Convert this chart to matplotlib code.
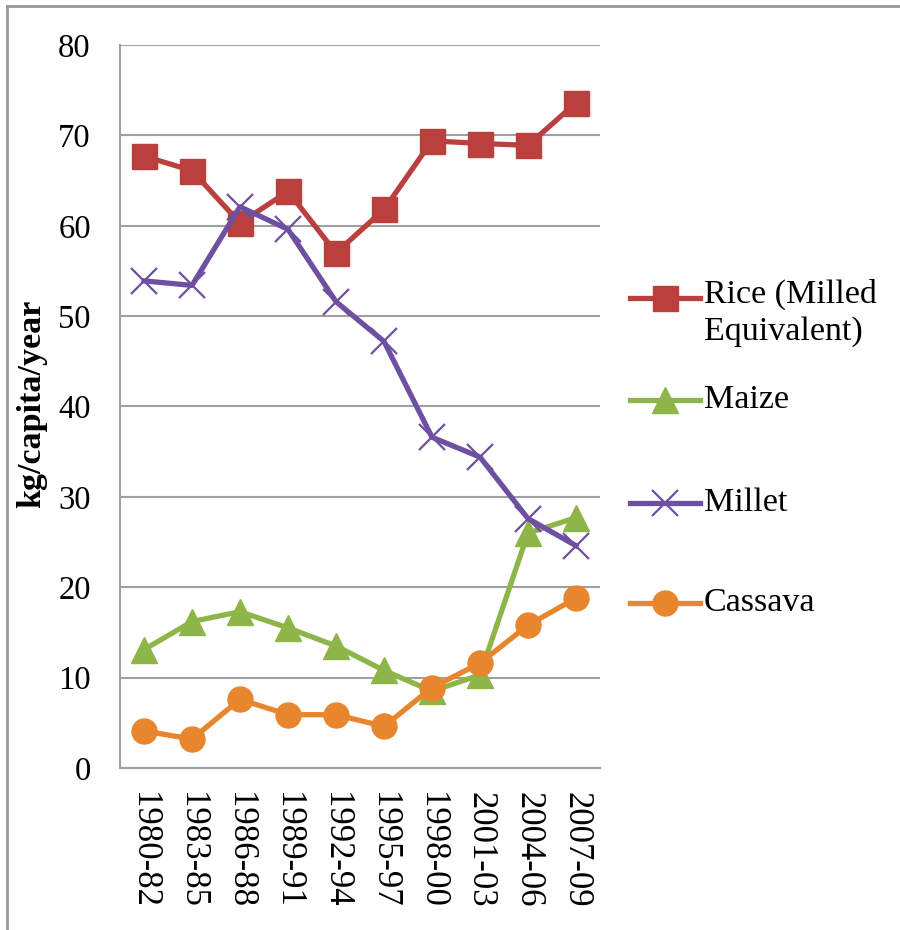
import matplotlib
matplotlib.use("Agg")
import matplotlib.pyplot as plt
from matplotlib.lines import Line2D

periods = ["1980-82", "1983-85", "1986-88", "1989-91", "1992-94",
           "1995-97", "1998-00", "2001-03", "2004-06", "2007-09"]
rice = [67.7, 66.1, 60.3, 63.8, 57.0, 61.8, 69.4, 69.1, 68.9, 73.6]
maize = [13.1, 16.2, 17.3, 15.5, 13.5, 10.8, 8.5, 10.3, 26.0, 27.7]
millet = [53.9, 53.4, 62.1, 59.6, 51.6, 47.2, 36.6, 34.4, 27.6, 24.6]
cassava = [4.1, 3.2, 7.6, 5.9, 5.9, 4.6, 8.9, 11.6, 15.8, 18.8]
series_names = ["Rice (Milled\nEquivalent)", "Maize", "Millet", "Cassava"]
yticks = [0, 10, 20, 30, 40, 50, 60, 70, 80]

plt.rcParams['font.family'] = ['Liberation Serif', 'DejaVu Serif']

fig = plt.figure(figsize=(9, 9.3), dpi=100)
ax = fig.add_axes([120/900, 1-768/930, 480/900, (768-45)/930])

styles = [
    dict(color="#B9403C", marker="s", ms=18, mfc="#B9403C", mec="#B9403C", mew=1),
    dict(color="#8DB548", marker="^", ms=19, mfc="#8DB548", mec="#8DB548", mew=1),
    dict(color="#6E50A0", marker="x", ms=19, mfc="#6E50A0", mec="#6E50A0", mew=1.6),
    dict(color="#E8862E", marker="o", ms=18, mfc="#E8862E", mec="#E8862E", mew=1),
]
data = [rice, maize, millet, cassava]
x = list(range(len(periods)))
order = [3, 1, 0, 2]
for i in order:
    ax.plot(x, data[i], lw=3.8, zorder=3 + i, **styles[i])

ax.set_xlim(-0.5, len(periods) - 0.5)
ax.set_ylim(0, 80)
ax.set_yticks(yticks)
ax.set_xticks(x)
ax.set_xticklabels(periods, rotation=270, fontsize=25)
ax.tick_params(axis='y', labelsize=23.5, length=0, pad=21)
ax.tick_params(axis='x', length=0, pad=17)
ax.yaxis.grid(True, color="#A0A0A0", lw=1.5)
ax.set_axisbelow(True)
for s in ["top", "right"]:
    ax.spines[s].set_visible(False)
for s in ["left", "bottom"]:
    ax.spines[s].set_color("#A0A0A0")
    ax.spines[s].set_linewidth(1.5)

fig.text(32/900, 1-404/930, "kg/capita/year", rotation=90, fontsize=24.5,
         fontweight="bold", ha="center", va="center")

# legend built manually (Excel style: handle aligned with first text line)
leg_y = [298, 400, 503, 603]
for i, name in enumerate(series_names):
    yf = 1 - leg_y[i] / 930
    ln = Line2D([630/900, 665/900, 700/900], [yf, yf, yf], transform=fig.transFigure,
                lw=3.8, markevery=[1], **styles[i])
    fig.add_artist(ln)
    if i == 0:
        fig.text(704/900, 1 - (leg_y[i] - 19) / 930, name, fontsize=24.5,
                 ha="left", va="top", linespacing=1.25)
    else:
        fig.text(704/900, yf, name, fontsize=24.5, ha="left", va="center")

# outer frame lines (left and top)
fig.add_artist(Line2D([7/900, 7/900], [0, 1 - 6/930], transform=fig.transFigure,
                      color="#999999", lw=2))
fig.add_artist(Line2D([7/900, 1], [1 - 6/930, 1 - 6/930], transform=fig.transFigure,
                      color="#999999", lw=2))

fig.savefig("out.png", dpi=100, facecolor="white")
